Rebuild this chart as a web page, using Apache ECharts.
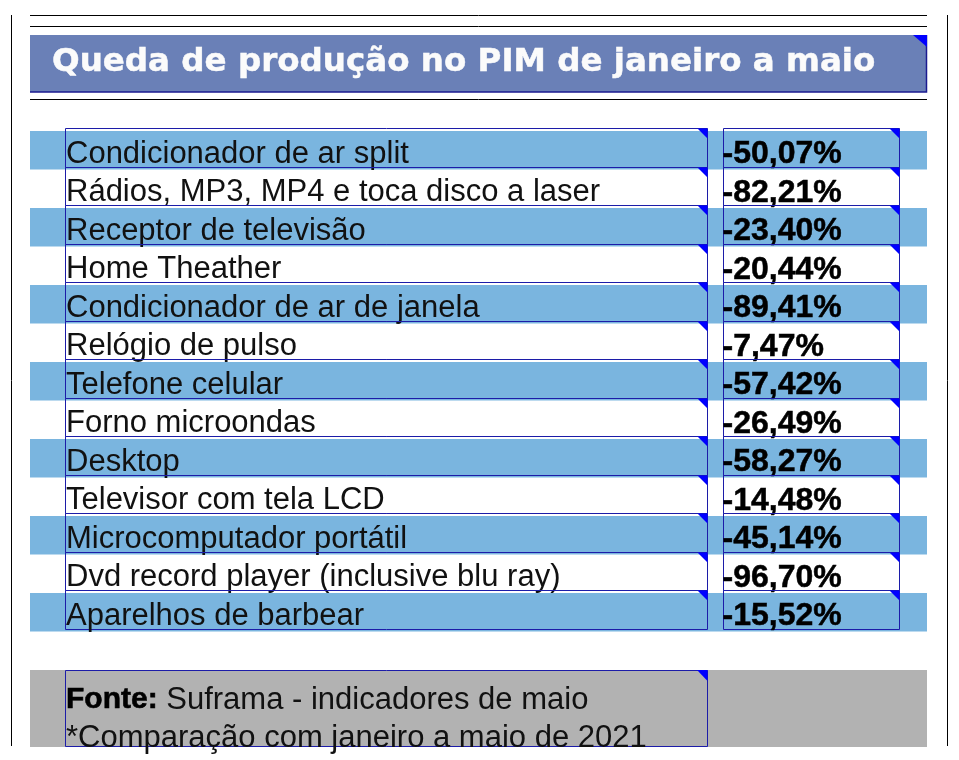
<!DOCTYPE html>
<html><head><meta charset="utf-8">
<script src="https://cdn.jsdelivr.net/npm/echarts@6/dist/echarts.min.js"></script>
<style>html,body{margin:0;padding:0;background:#fff}#c{width:959px;height:760px}</style>
</head><body><div id="c"></div>
<script>
const titleText = 'Queda de produção no PIM de janeiro a maio';
const categories = ['Condicionador de ar split', 'Rádios, MP3, MP4 e toca disco a laser', 'Receptor de televisão', 'Home Theather', 'Condicionador de ar de janela', 'Relógio de pulso', 'Telefone celular', 'Forno microondas', 'Desktop', 'Televisor com tela LCD', 'Microcomputador portátil', 'Dvd record player (inclusive blu ray)', 'Aparelhos de barbear'];
const values = [-50.07, -82.21, -23.40, -20.44, -89.41, -7.47, -57.42, -26.49, -58.27, -14.48, -45.14, -96.70, -15.52];
const sourceLabel = 'Fonte:';
const sourceText = 'Suframa - indicadores de maio';
const noteText = '*Comparação com janeiro a maio de 2021';

const BAND = '#7ab5df', BOX = '#1c1ca8', TRI = '#0000ff';
const LABEL_FONT = '31px "Liberation Sans", Arial, sans-serif';
const VALUE_FONT = 'bold 32px "Liberation Sans", Arial, sans-serif';
const fmt = v => v.toFixed(2).replace('.', ',') + '%';

function corner(r, t, col) {
  return { type: 'polygon', shape: { points: [[r - 10, t], [r, t], [r, t + 10]] }, style: { fill: col } };
}

const chart = echarts.init(document.getElementById('c'), null, { renderer: 'canvas' });
chart.setOption({
  animation: false,
  backgroundColor: '#fff',
  grid: { left: 30, right: 32, top: 131, height: 500.5 },
  xAxis: { type: 'value', min: 0, max: 100, show: false },
  yAxis: { type: 'category', data: categories, inverse: true, show: false },
  graphic: [
    { type: 'line', shape: { x1: 30, y1: 15.5, x2: 927, y2: 15.5 }, style: { stroke: '#000', lineWidth: 1 } },
    { type: 'line', shape: { x1: 30, y1: 26.5, x2: 927, y2: 26.5 }, style: { stroke: '#000', lineWidth: 1 } },
    { type: 'line', shape: { x1: 30, y1: 99.5, x2: 927, y2: 99.5 }, style: { stroke: '#000', lineWidth: 1 } },
    { type: 'line', shape: { x1: 11.5, y1: 15, x2: 11.5, y2: 746 }, style: { stroke: '#000', lineWidth: 1 } },
    { type: 'line', shape: { x1: 947.5, y1: 15, x2: 947.5, y2: 746 }, style: { stroke: '#000', lineWidth: 1 } },
    { type: 'rect', shape: { x: 30, y: 35, width: 897, height: 57 }, style: { fill: '#6a80b7' } },
    { type: 'polyline', shape: { points: [[30, 92], [926.5, 92], [926.5, 35]] }, style: { stroke: '#1a1a90', lineWidth: 1.5, fill: null } },
    { type: 'polygon', shape: { points: [[913, 35], [927, 35], [927, 47]] }, style: { fill: TRI } },
    { type: 'text', x: 52, y: 63, style: { text: titleText, font: 'bold 32.5px "DejaVu Sans", sans-serif', fill: '#fbfbfb', stroke: '#fbfbfb', lineWidth: 0.5, verticalAlign: 'middle', align: 'left' } },
    { type: 'rect', shape: { x: 30, y: 670, width: 897, height: 77 }, style: { fill: '#b2b2b2' } },
    { type: 'rect', shape: { x: 65.5, y: 670.5, width: 642, height: 76 }, style: { fill: null, stroke: BOX, lineWidth: 1 } },
    { type: 'polygon', shape: { points: [[697, 670], [707.5, 670], [707.5, 681]] }, style: { fill: TRI } },
    { type: 'text', x: 66, y: 700, style: { text: '{b|' + sourceLabel + '} ' + sourceText, font: LABEL_FONT, fill: '#111', verticalAlign: 'middle', align: 'left',
      rich: { b: { font: 'bold 30px "Liberation Sans", Arial, sans-serif', fill: '#000', stroke: '#000', lineWidth: 0.6 } } } },
    { type: 'text', x: 66, y: 738, style: { text: noteText, font: LABEL_FONT, fill: '#111', verticalAlign: 'middle', align: 'left' } }
  ],
  series: [{
    type: 'custom',
    data: categories.map((c, i) => [i, values[i]]),
    encode: { y: 0 },
    renderItem(params, api) {
      const i = api.value(0);
      const cs = params.coordSys;
      const cy = api.coord([0, i])[1];
      const h = api.size([0, 1])[1];
      const top = cy - h / 2, bot = cy + h / 2;
      const L = cs.x;
      const lb = [L + 35.5, L + 677.5], vb = [L + 693.5, L + 869.5];
      const bt = Math.round(top - 3) + 0.5, bb = Math.round(bot - 3) + 0.5;
      const kids = [];
      if (i % 2 === 0) kids.push({ type: 'rect', shape: { x: L, y: top, width: cs.width, height: h }, style: { fill: BAND } });
      kids.push({ type: 'rect', shape: { x: lb[0], y: bt, width: lb[1] - lb[0], height: bb - bt }, style: { fill: null, stroke: BOX, lineWidth: 1 } });
      kids.push({ type: 'rect', shape: { x: vb[0], y: bt, width: vb[1] - vb[0], height: bb - bt }, style: { fill: null, stroke: BOX, lineWidth: 1 } });
      kids.push(corner(lb[1], bt, TRI));
      kids.push(corner(vb[1], bt, TRI));
      kids.push({ type: 'text', style: { text: categories[i], x: lb[0] + 0.5, y: cy + 4, font: LABEL_FONT, fill: '#111', verticalAlign: 'middle', align: 'left' } });
      kids.push({ type: 'text', style: { text: fmt(api.value(1)), x: vb[0] - 1, y: cy + 4, font: VALUE_FONT, fill: '#000', stroke: '#000', lineWidth: 0.5, verticalAlign: 'middle', align: 'left' } });
      return { type: 'group', children: kids };
    }
  }]
});
</script>
</body></html>
